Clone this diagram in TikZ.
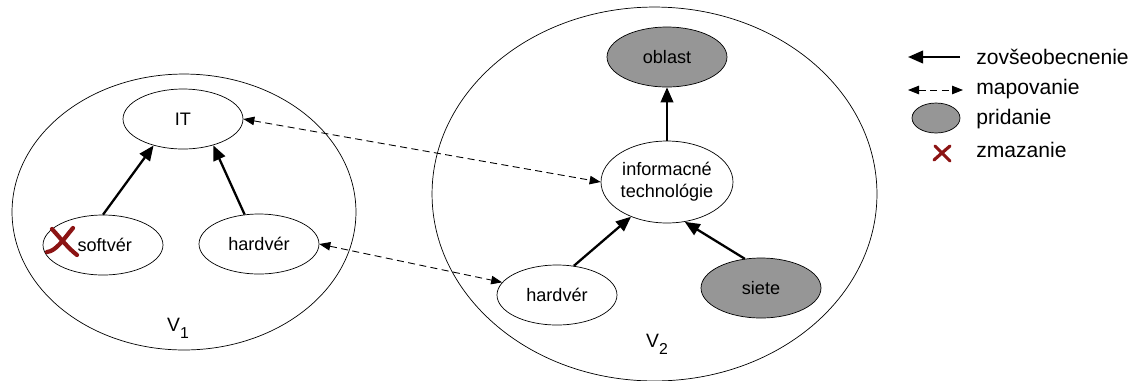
\documentclass[tikz,border=0pt]{standalone}
\usepackage{fontspec}
\setmainfont{Liberation Sans}
\usetikzlibrary{shapes.geometric,arrows.meta}
\definecolor{addgray}{RGB}{150,150,150}
\definecolor{delred}{RGB}{140,20,20}
\begin{document}
\begin{tikzpicture}[x=0.02cm,y=-0.02cm,
  concept/.style={ellipse,draw,inner sep=0pt,minimum width=2.4cm,minimum height=1.2cm,
    font=\fontsize{10.3}{12.5}\selectfont,align=center},
  added/.style={concept,fill=addgray},
  region/.style={ellipse,draw,inner sep=0pt},
  gen/.style={-{Triangle[length=0.3cm,width=0.25cm]},line width=1.3pt},
  map/.style={{Triangle[length=0.22cm,width=0.17cm]}-{Triangle[length=0.22cm,width=0.17cm]},
    line width=0.5pt,dash pattern=on 4pt off 2.5pt},
  vlabel/.style={font=\fontsize{11}{12}\selectfont,inner sep=0pt},
  legtext/.style={anchor=west,font=\fontsize{12}{14}\selectfont,inner sep=0pt},
  delmark/.style={delred,line cap=round}]
\useasboundingbox (0,0) rectangle (1139,380);

% regions
\node[region,minimum width=6.88cm,minimum height=5.52cm] (R1) at (184,212) {};
\node[region,minimum width=8.9cm,minimum height=7.48cm] (R2) at (654.5,194) {};
\node[vlabel] (L1) at (178,328) {V\raisebox{-4pt}{\fontsize{9}{10}\selectfont 1}};
\node[vlabel] (L2) at (657,344) {V\raisebox{-4pt}{\fontsize{9}{10}\selectfont 2}};

% V1 concepts
\node[concept] (it) at (183,119) {IT};
\node[concept] (soft) at (103,245) {\hspace{2pt}softvér};
\node[concept] (hw1) at (259,244) {hardvér};

% V2 concepts
\node[added] (obl) at (667,57) {oblast};
\node[concept,minimum width=2.64cm,minimum height=1.64cm] (inf) at (667,182) {informacné\\technológie};
\node[concept] (hw2) at (557,295) {hardvér};
\node[added] (siete) at (761,288) {siete};

% generalisation
\draw[gen] (soft.90) -- (it.222);
\draw[gen] (hw1.116) -- (it.319);
\draw[gen] (inf.north) -- (obl.south);
\draw[gen] (hw2.60) -- (inf.224);
\draw[gen] (siete.119) -- (inf.294);

% mapping
\draw[map] (it.east) -- (inf.west);
\draw[map] (hw1.east) -- (hw2.167);

% deletion mark
\draw[delmark,line width=2.4pt] (52,229) .. controls (62,240) and (68,248) .. (77,255);
\draw[delmark,line width=2.4pt] (73,228) .. controls (63,240) and (56,251) .. (47,252);

% legend
\coordinate (g1) at (960,57);
\coordinate (g2) at (908,57);
\draw[gen] (g1) -- (g2);
\node[legtext] (t1) at (976,57) {zovšeobecnenie};
\coordinate (m1) at (908,90);
\coordinate (m2) at (963,90);
\draw[map] (m1) -- (m2);
\node[legtext] (t2) at (976,89) {mapovanie};
\node[ellipse,draw,fill=addgray,inner sep=0pt,minimum width=0.96cm,minimum height=0.6cm] (p) at (936,118) {};
\node[legtext] (t3) at (976,119) {pridanie};
\draw[delmark,line width=1.8pt] (935,146) .. controls (941,152) .. (950,161);
\draw[delmark,line width=1.8pt] (950,146) .. controls (943,152) .. (934,160);
\node[legtext] (t4) at (976,150) {zmazanie};
\end{tikzpicture}
\end{document}
